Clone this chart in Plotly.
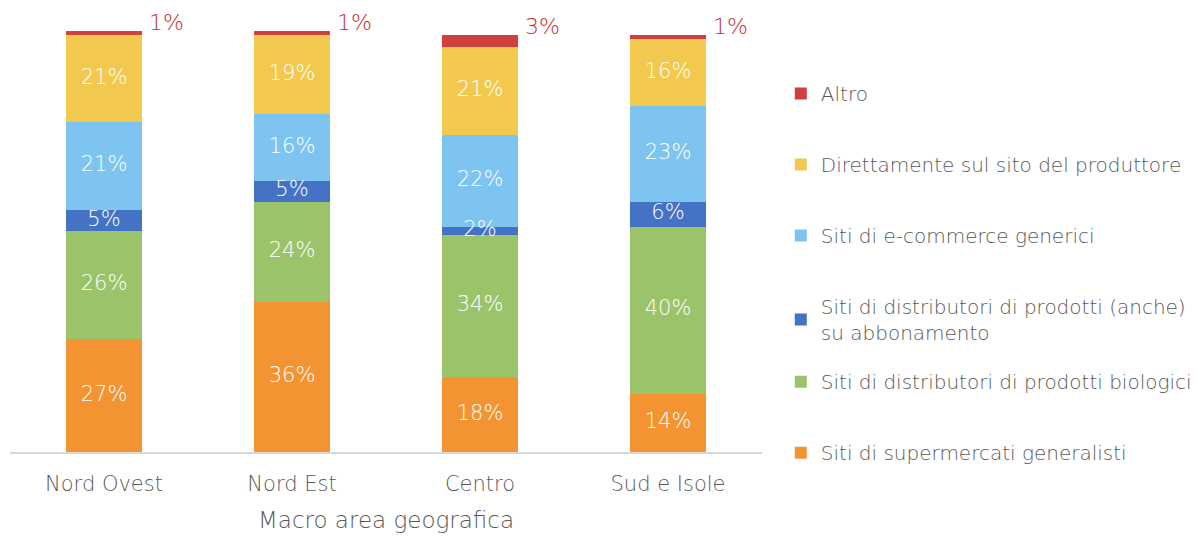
import plotly.graph_objects as go

# Survey breakdown of purchase channels by macro area
areas = ["Nord Ovest", "Nord Est", "Centro", "Sud e Isole"]

supermercati = [27, 36, 18, 14]
biologici = [26, 24, 34, 40]
abbonamento = [5, 5, 2, 6]
ecommerce = [21, 16, 22, 23]
produttore = [21, 19, 21, 16]
altro = [1, 1, 3, 1]

# (legend label, values, colour, legend box, rank in legend)
series = [
    ("Siti di supermercati generalisti", supermercati, "#F39332", "legend2", 6),
    ("Siti di distributori di prodotti biologici", biologici, "#9BC46A", "legend2", 5),
    ("Siti di distributori di prodotti (anche)<br>su abbonamento", abbonamento, "#4472C4", "legend", 4),
    ("Siti di e-commerce generici", ecommerce, "#7DC5F0", "legend", 3),
    ("Direttamente sul sito del produttore", produttore, "#F2C94E", "legend", 2),
    ("Altro", altro, "#D0403E", "legend", 1),
]

FONT = "DejaVu Sans"
W = 200
GREY = "#595959"

fig = go.Figure()
for i, (name, vals, color, leg, rank) in enumerate(series):
    fig.add_trace(go.Bar(
        x=areas,
        y=vals,
        name=name,
        marker=dict(color=color, line=dict(width=0)),
        width=0.4,
        legend=leg,
        legendgroup=f"g{i}",
        legendrank=rank,
        hoverinfo="skip",
    ))

# White percentage labels centred in each segment (all but "Altro"),
# drawn on top of every bar so thin segments stay readable
lab_x, lab_y, lab_t = [], [], []
for k, area in enumerate(areas):
    base = 0
    for name, vals, _, _, _ in series:
        v = vals[k]
        if name != "Altro":
            lab_x.append(area)
            lab_y.append(base + v / 2)
            lab_t.append(f"{v}%")
        base += v
fig.add_trace(go.Scatter(
    x=lab_x, y=lab_y, text=lab_t, mode="text",
    textposition="middle center",
    textfont=dict(color="white", size=21, family=FONT, weight=W),
    showlegend=False, hoverinfo="skip",
))

# "Altro" values shown in red beside the top of each bar
totals = [sum(s[1][k] for s in series) for k in range(len(areas))]
for k, area in enumerate(areas):
    fig.add_annotation(
        x=area, y=totals[k], text=f"{altro[k]}%",
        showarrow=False, xshift=62, yanchor="bottom", yshift=-6,
        font=dict(color="#C62E2B", size=22, family=FONT, weight=W),
    )

legend_style = dict(
    xanchor="left", yanchor="top",
    traceorder="grouped", tracegroupgap=42,
    font=dict(size=20, color=GREY, family=FONT, weight=W),
    itemwidth=30,
)

fig.update_layout(
    barmode="stack",
    width=1197, height=536,
    margin=dict(l=10, r=435, t=16, b=84, autoexpand=False),
    paper_bgcolor="white",
    plot_bgcolor="white",
    font=dict(family=FONT, color=GREY, size=20, weight=W),
    bargap=0.6,
    legend=dict(x=1.025, y=0.867, **legend_style),
    legend2=dict(x=1.025, y=0.206, **legend_style),
    xaxis=dict(
        showline=True, linecolor="#D9D9D9", linewidth=2,
        ticks="", ticklabelstandoff=12,
        tickfont=dict(size=21, color=GREY, family=FONT, weight=W),
        title=dict(text="Macro area geografica", standoff=17,
                   font=dict(size=23, color=GREY, family=FONT, weight=W)),
        showgrid=False,
    ),
    yaxis=dict(range=[0, 104.5], visible=False, showgrid=False),
)

fig.write_html("out.html")
